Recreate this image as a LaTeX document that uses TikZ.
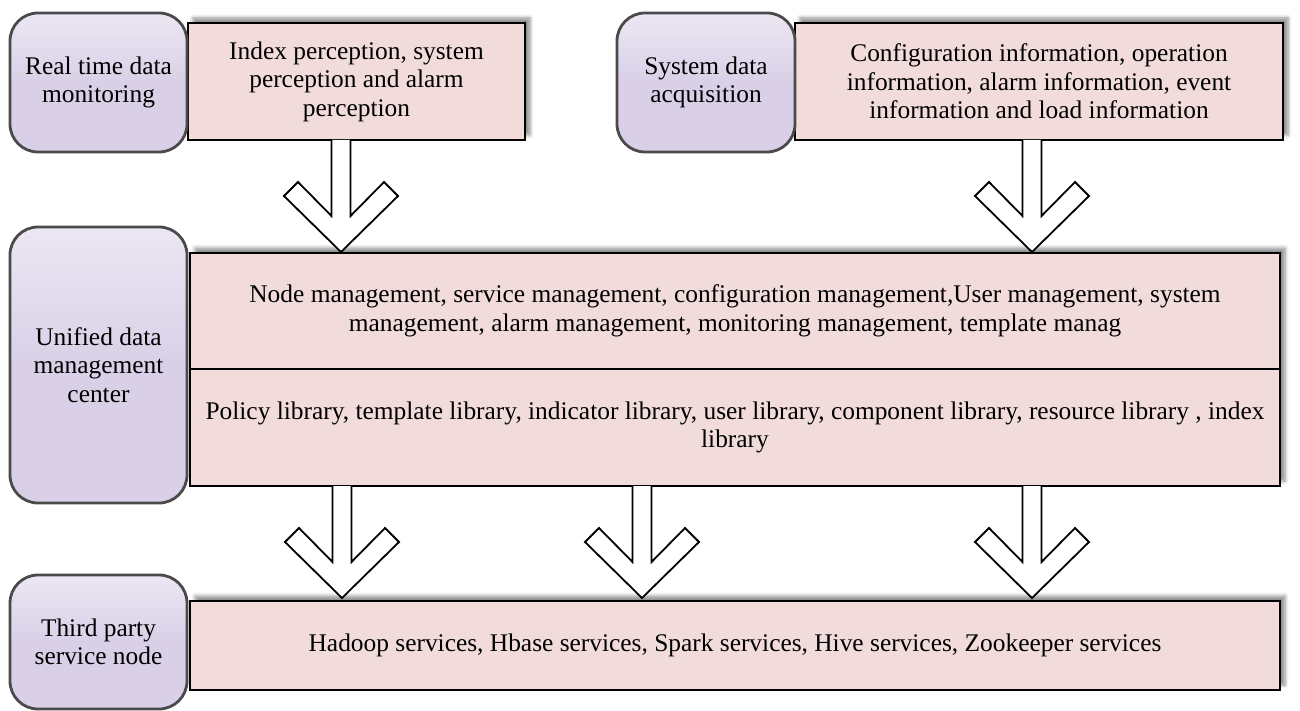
\documentclass[tikz,border=0pt]{standalone}
\usepackage{fontspec}
\setmainfont{Liberation Serif}
\usetikzlibrary{shadows.blur}
\definecolor{lav}{HTML}{D9D0E7}
\definecolor{lavtop}{HTML}{ECE7F3}
\definecolor{pinkf}{HTML}{F2DCDB}
\definecolor{rim}{HTML}{4A4A4A}
\begin{document}
\begin{tikzpicture}[x=0.5pt,y=-0.5pt,
  every node/.style={font=\fontsize{12.7}{14.3}\selectfont, align=center, inner sep=0pt},
  lbox/.style={rounded corners=14pt, draw=rim, line width=1.4pt, top color=lavtop, bottom color=lav, middle color=lav},
  pbox/.style={draw=black, line width=0.6pt, fill=pinkf,
     blur shadow={shadow xshift=2.5pt, shadow yshift=2.5pt, shadow blur steps=6, shadow opacity=45, shadow blur extra rounding=0pt}},
  arrowline/.style={draw=black, fill=white, line width=0.9pt, line join=miter},
  blockarr/.pic={\path[arrowline] (-9.5,0) -- (-9.5,76) -- (-43,42) -- (-57,56) -- (0,112) -- (57,56) -- (43,42) -- (9.5,76) -- (9.5,0);}
]
\useasboundingbox (0,0) rectangle (1300,711);

% top row
\path[pbox] (188,23) rectangle (525,140);
\node (p1) at (356.5,81.5) {Index perception, system\\perception and alarm\\perception};
\coordinate (p1s) at (356.5,140);
\path[lbox] (10,13) rectangle (187,152);
\node (l1) at (98.5,82.5) {Real time data\\monitoring};

\path[pbox] (795,23) rectangle (1283,140);
\node (p2) at (1039,81.5) {Configuration information, operation\\information, alarm information, event\\information and load information};
\coordinate (p2s) at (1039,140);
\path[lbox] (617,13) rectangle (795,152);
\node (l2) at (706,82.5) {System data\\acquisition};

% middle
\path[pbox] (190,253) rectangle (1280,486);
\draw[line width=0.6pt] (190,369) -- (1280,369);
\node (m1) at (735,311) {Node management, service management, configuration management,User management, system\\management, alarm management, monitoring management, template manag};
\node (m2) at (735,427.5) {Policy library, template library, indicator library, user library, component library, resource library , index\\library};
\coordinate (ms) at (735,486);
\path[lbox] (10,227) rectangle (187,503);
\node (l3) at (98.5,365) {Unified data\\management\\center};

% bottom
\path[pbox] (190,601) rectangle (1280,690);
\node (b1) at (735,645.5) {Hadoop services, Hbase services, Spark services, Hive services, Zookeeper services};
\path[lbox] (10,575) rectangle (187,709);
\node (l4) at (98.5,642) {Third party\\service node};

% arrows
\path (341,0 |- p1s) pic {blockarr};
\path (1032,0 |- p2s) pic {blockarr};
\path (342,0 |- ms) pic {blockarr};
\path (642,0 |- ms) pic {blockarr};
\path (1032,0 |- ms) pic {blockarr};
\end{tikzpicture}
\end{document}
